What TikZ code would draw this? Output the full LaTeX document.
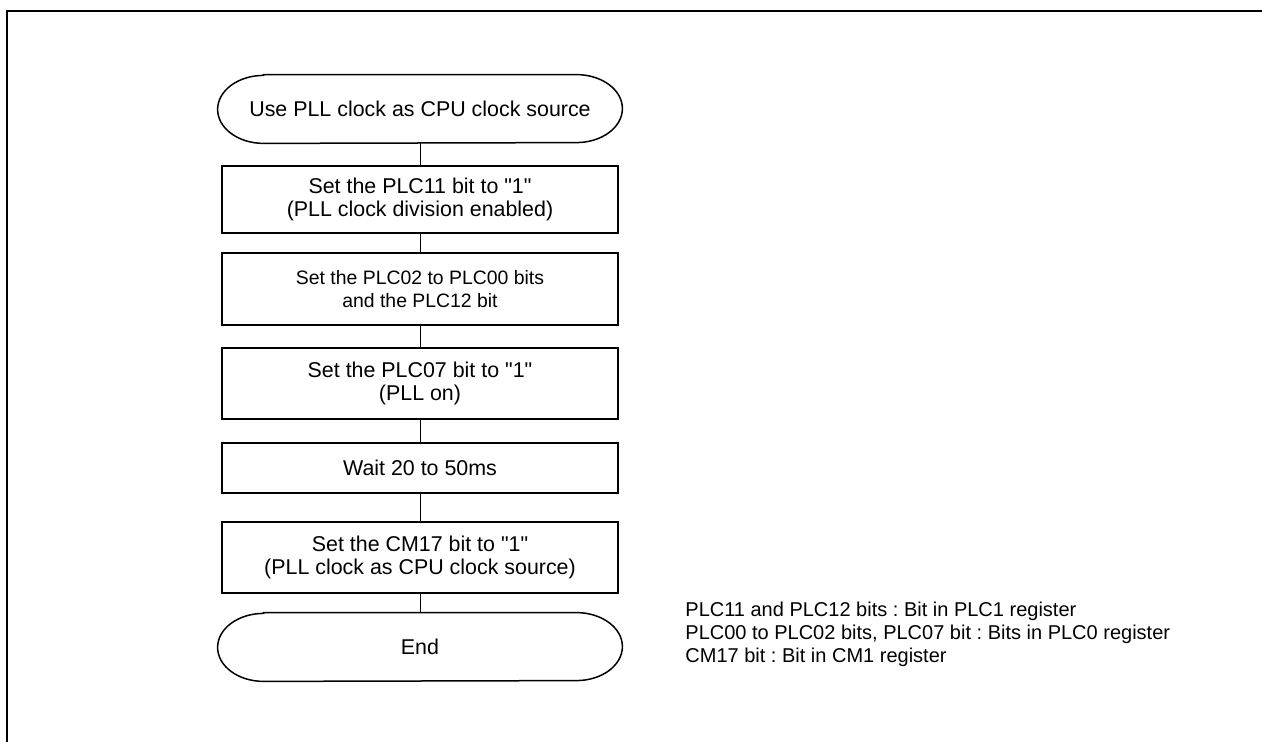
\documentclass[tikz,border=0pt]{standalone}
\usepackage{fontspec}
\setmainfont{Liberation Sans}[Ligatures=TeXOff]
\frenchspacing
\newcommand{\termoutline}[1]{%
  \draw[line width=0.75pt] ([xshift=23pt]#1.north west) -- ([xshift=-23pt]#1.north east)
    arc[start angle=90, end angle=-90, x radius=23pt, y radius=17pt]
    -- ([xshift=23pt]#1.south west)
    arc[start angle=270, end angle=90, x radius=23pt, y radius=17pt] -- cycle;}
\begin{document}
\begin{tikzpicture}[x=0.5pt, y=-0.5pt,
    stepbox/.style={draw, line width=0.75pt, minimum width=198pt, align=center,
      inner sep=0pt, font=\fontsize{10.7}{11.5}\selectfont},
    termbox/.style={minimum width=202pt, minimum height=34pt, inner sep=0pt,
      font=\fontsize{10.7}{11.5}\selectfont},
    link/.style={line width=0.5pt}]
  \useasboundingbox (0,0) rectangle (1262,742);
  \draw[line width=1pt] (7,742) -- (7,11) -- (1262,11);
  % flow
  \node[termbox] (start) at (420,109) {Use PLL clock as CPU clock source};
  \termoutline{start}
  \node[stepbox, minimum height=33.5pt] (s1) at (420,199.5) {Set the PLC11 bit to "1"\\(PLL clock division enabled)};
  \node[stepbox, minimum height=36pt, font=\fontsize{9.7}{11.5}\selectfont] (s2) at (420,289) {Set the PLC02 to PLC00 bits\\and the PLC12 bit};
  \node[stepbox, minimum height=35.5pt] (s3) at (420,383.5) {Set the PLC07 bit to "1"\\(PLL on)};
  \node[stepbox, minimum height=25pt] (s4) at (420,468) {Wait 20 to 50ms};
  \node[stepbox, minimum height=35.5pt] (s5) at (420,557.5) {Set the CM17 bit to "1"\\(PLL clock as CPU clock source)};
  \node[termbox] (stop) at (420,647) {End};
  \termoutline{stop}
  \draw[link] (start) -- (s1);
  \draw[link] (s1) -- (s2);
  \draw[link] (s2) -- (s3);
  \draw[link] (s3) -- (s4);
  \draw[link] (s4) -- (s5);
  \draw[link] (s5) -- (stop);
  % register notes
  \node[anchor=west, align=left, inner sep=0pt, font=\fontsize{10}{11.5}\selectfont] (notes) at (685,634)
    {PLC11 and PLC12 bits : Bit in PLC1 register\\
     PLC00 to PLC02 bits, PLC07 bit : Bits in PLC0 register\\
     CM17 bit : Bit in CM1 register};
\end{tikzpicture}
\end{document}
